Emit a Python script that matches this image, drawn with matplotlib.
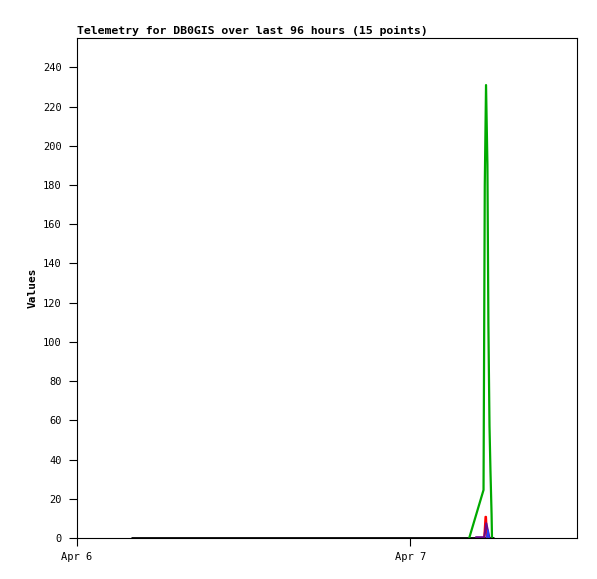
import numpy as np
import pandas as pd
import matplotlib
matplotlib.use("Agg")
import matplotlib.pyplot as plt
import matplotlib.dates as mdates

# Données (heures depuis le 6 avril 00:00)
start = pd.Timestamp("2021-04-06 00:00")

black_hours = [3.9, 12.0, 20.0, 28.0, 30.05]
black_vals = [0, 0, 0, 0, 0]

green_hours = [28.24, 29.27, 29.30, 29.36, 29.45, 29.55, 29.62, 29.70, 29.77, 29.85, 29.88]
green_vals = [0, 24.5, 76.5, 180, 231, 190.5, 109, 57, 34, 12, 0]

red_hours = [29.32, 29.41, 29.45, 29.52]
red_vals = [0, 10.8, 10.8, 0]

purple_hours = [28.75, 29.32, 29.47, 29.70]
purple_vals = [0.4, 0.4, 7.5, 0]

blue_hours = [29.50, 29.58, 29.66]
blue_vals = [0, 4.0, 0]

title = "Telemetry for DB0GIS over last 96 hours (15 points)"


def to_time(hours):
    return [start + pd.Timedelta(hours=h) for h in hours]


plt.rcParams["font.family"] = ["DejaVu Sans Mono"]

fig = plt.figure(figsize=(5.97, 5.79), dpi=100)
ax = fig.add_axes([77 / 597, 41 / 579, 500 / 597, 500 / 579])

ax.plot(to_time(black_hours), black_vals, color="black", lw=2.0, solid_capstyle="butt")
ax.plot(to_time(green_hours), green_vals, color="#00aa00", lw=1.6)
ax.plot(to_time(red_hours), red_vals, color="#ff0000", lw=1.5)
ax.plot(to_time(purple_hours), purple_vals, color="#6a0a8a", lw=1.5)
ax.plot(to_time(blue_hours), blue_vals, color="#2040ff", lw=1.2)

ax.set_xlim(start, start + pd.Timedelta(hours=36))
ax.set_ylim(0, 255)
ax.set_yticks(np.arange(0, 241, 20))
ax.xaxis.set_major_locator(mdates.DayLocator())
ax.xaxis.set_major_formatter(
    plt.FuncFormatter(lambda v, pos: "{:%b} {}".format(mdates.num2date(v), mdates.num2date(v).day))
)

ax.tick_params(axis="both", direction="out", length=6, width=0.8, labelsize=7.5, color="black")
ax.tick_params(axis="y", pad=5)
ax.tick_params(axis="x", pad=4)
for s in ax.spines.values():
    s.set_linewidth(0.8)

ax.set_ylabel("Values", fontsize=8, fontweight="bold", labelpad=4)
fig.text(77 / 597, 1 - 31 / 579, title, fontsize=8.25, fontweight="bold", va="center", ha="left")

fig.savefig("out.png", dpi=100)
